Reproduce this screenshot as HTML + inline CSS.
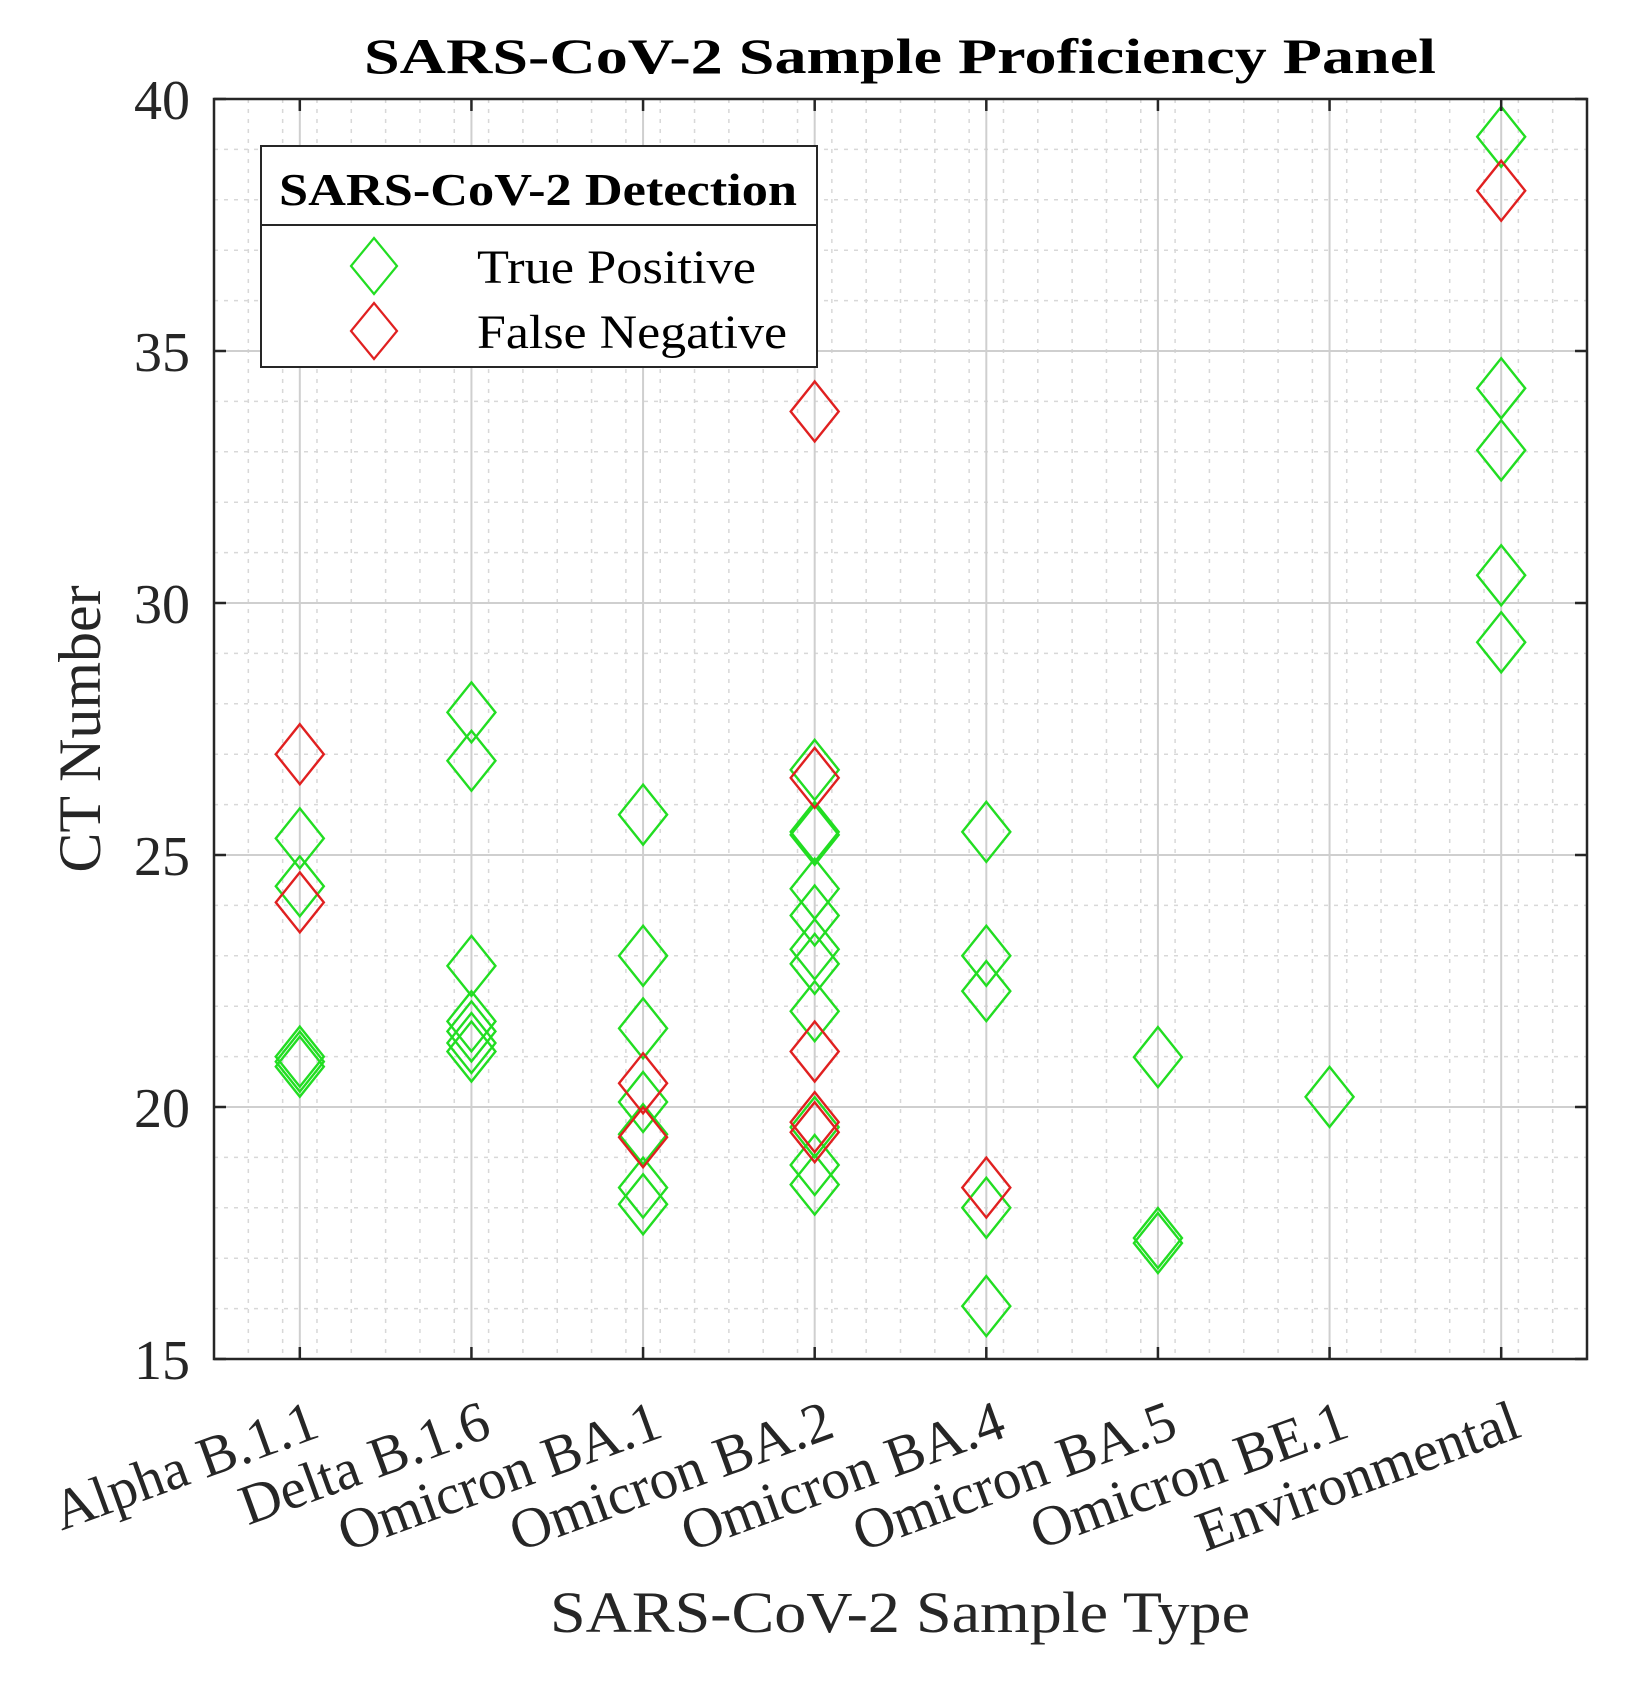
<!DOCTYPE html>
<html><head><meta charset="utf-8"><style>
html,body{margin:0;padding:0;background:#fff;}
svg{display:block;font-family:"Liberation Serif",serif;}
</style></head><body>
<svg id="chart" width="1628" height="1694" viewBox="0 0 1628 1694">
<g id="grid"></g>
<g id="marks"></g>
<rect x="214" y="99" width="1373" height="1260" fill="none" stroke="#262626" stroke-width="2.5"/>
<g id="ticks"></g>
<text x="900" y="73" text-anchor="middle" font-size="50" font-weight="bold" fill="#000" textLength="1072" lengthAdjust="spacingAndGlyphs">SARS-CoV-2 Sample Proficiency Panel</text>
<text transform="translate(100,729) rotate(-90)" text-anchor="middle" font-size="60" fill="#262626">CT Number</text>
<text x="900" y="1632" text-anchor="middle" font-size="58" fill="#262626" textLength="700" lengthAdjust="spacingAndGlyphs">SARS-CoV-2 Sample Type</text>
<g>
<rect x="261" y="146" width="556" height="221" fill="#fff" stroke="#262626" stroke-width="2"/>
<line x1="261" y1="225" x2="817" y2="225" stroke="#262626" stroke-width="2"/>
<text x="279" y="205" font-size="46" font-weight="bold" fill="#000" textLength="518" lengthAdjust="spacingAndGlyphs">SARS-CoV-2 Detection</text>
<path d="M374 238 L397 266 L374 294 L351 266 Z" fill="none" stroke="#22dd22" stroke-width="2.2"/>
<text x="477" y="283" font-size="48" fill="#000" textLength="279" lengthAdjust="spacingAndGlyphs">True Positive</text>
<path d="M374 303 L397 331 L374 359 L351 331 Z" fill="none" stroke="#e02020" stroke-width="2.2"/>
<text x="477" y="348" font-size="48" fill="#000" textLength="310" lengthAdjust="spacingAndGlyphs">False Negative</text>
</g>
</svg>
<script>
const categories = ["Alpha B.1.1","Delta B.1.6","Omicron BA.1","Omicron BA.2","Omicron BA.4","Omicron BA.5","Omicron BE.1","Environmental"];
const tpValues = [
  [25.33,24.38,21.0,20.9,20.8],
  [27.83,26.87,22.8,21.7,21.5,21.27,21.1],
  [25.8,23.0,21.56,20.1,19.46,18.4,18.07],
  [26.69,25.46,25.4,24.33,23.8,23.13,22.84,21.9,19.6,18.85,18.46],
  [25.46,23.0,22.3,18.0,16.05],
  [20.99,17.4,17.3],
  [20.2],
  [39.25,34.26,33.03,30.55,29.22]
];
const fnValues = [
  [27.0,24.06],
  [],
  [20.47,19.4],
  [33.8,26.53,21.1,19.7,19.5],
  [18.4],
  [],
  [],
  [38.18]
];
const yTicks = [15,20,25,30,35,40];

const NS="http://www.w3.org/2000/svg";
const X0=214,X1=1587,Y0=99,Y1=1359;
const xMin=0.5,xMax=8.5,yMin=15,yMax=40;
function xs(v){return X0+(v-xMin)/(xMax-xMin)*(X1-X0);}
function ys(v){return Y1-(v-yMin)/(yMax-yMin)*(Y1-Y0);}
function mk(tag,attrs,parent){const e=document.createElementNS(NS,tag);for(const k in attrs)e.setAttribute(k,attrs[k]);parent.appendChild(e);return e;}
const grid=document.getElementById('grid'),marks=document.getElementById('marks'),ticks=document.getElementById('ticks');
for(let v=xMin+0.2;v<xMax-0.01;v+=0.2){
  if(Math.abs(v-Math.round(v))<0.01)continue;
  const l=mk('line',{x1:xs(v),x2:xs(v),y1:Y0,y2:Y1,stroke:'#d8d8d8','stroke-width':1.5,'stroke-dasharray':'4 6'},grid);
  
  
}
for(let v=yMin+1;v<yMax;v++){
  if(v%5===0)continue;
  const l=mk('line',{x1:X0,x2:X1,y1:ys(v),y2:ys(v),stroke:'#d8d8d8','stroke-width':1.5,'stroke-dasharray':'4 6'},grid);
  
  
}
categories.forEach((c,i)=>{
  const l=mk('line',{x1:xs(i+1),x2:xs(i+1),y1:Y0,y2:Y1,stroke:'#cfcfcf','stroke-width':2},grid);
  
  
  const t1=mk('line',{x1:xs(i+1),x2:xs(i+1),y1:Y1,y2:Y1-12,stroke:'#262626','stroke-width':2.5},ticks);
  
  
  const t2=mk('line',{x1:xs(i+1),x2:xs(i+1),y1:Y0,y2:Y0+12,stroke:'#262626','stroke-width':2.5},ticks);
  
  
  const tx=mk('text',{transform:'translate('+(xs(i+1)+22)+',1436) rotate(-20)','text-anchor':'end','font-size':57,fill:'#262626'},ticks);
  tx.textContent=c;
  
  
});
yTicks.forEach(v=>{
  if(v>yMin&&v<yMax){
    const l=mk('line',{x1:X0,x2:X1,y1:ys(v),y2:ys(v),stroke:'#cfcfcf','stroke-width':2},grid);
    
    
  }
  const t1=mk('line',{x1:X0,x2:X0+12,y1:ys(v),y2:ys(v),stroke:'#262626','stroke-width':2.5},ticks);
  
  
  const t2=mk('line',{x1:X1,x2:X1-12,y1:ys(v),y2:ys(v),stroke:'#262626','stroke-width':2.5},ticks);
  
  
  const tx=mk('text',{x:190,y:ys(v)+20,'text-anchor':'end','font-size':56,fill:'#262626'},ticks);
  tx.textContent=v;
  
  
});
function diamond(cx,cy,color,name){
  const hw=24,hh=30;
  const p=mk('path',{d:`M${cx} ${cy-hh} L${cx+hw} ${cy} L${cx} ${cy+hh} L${cx-hw} ${cy} Z`,fill:'none',stroke:color,'stroke-width':2.4},marks);
  
  
}
tpValues.forEach((arr,i)=>arr.forEach(v=>diamond(xs(i+1),ys(v),'#22dd22','true-positive-marker')));
fnValues.forEach((arr,i)=>arr.forEach(v=>diamond(xs(i+1),ys(v),'#e02020','false-negative-marker')));
</script>
</body></html>
